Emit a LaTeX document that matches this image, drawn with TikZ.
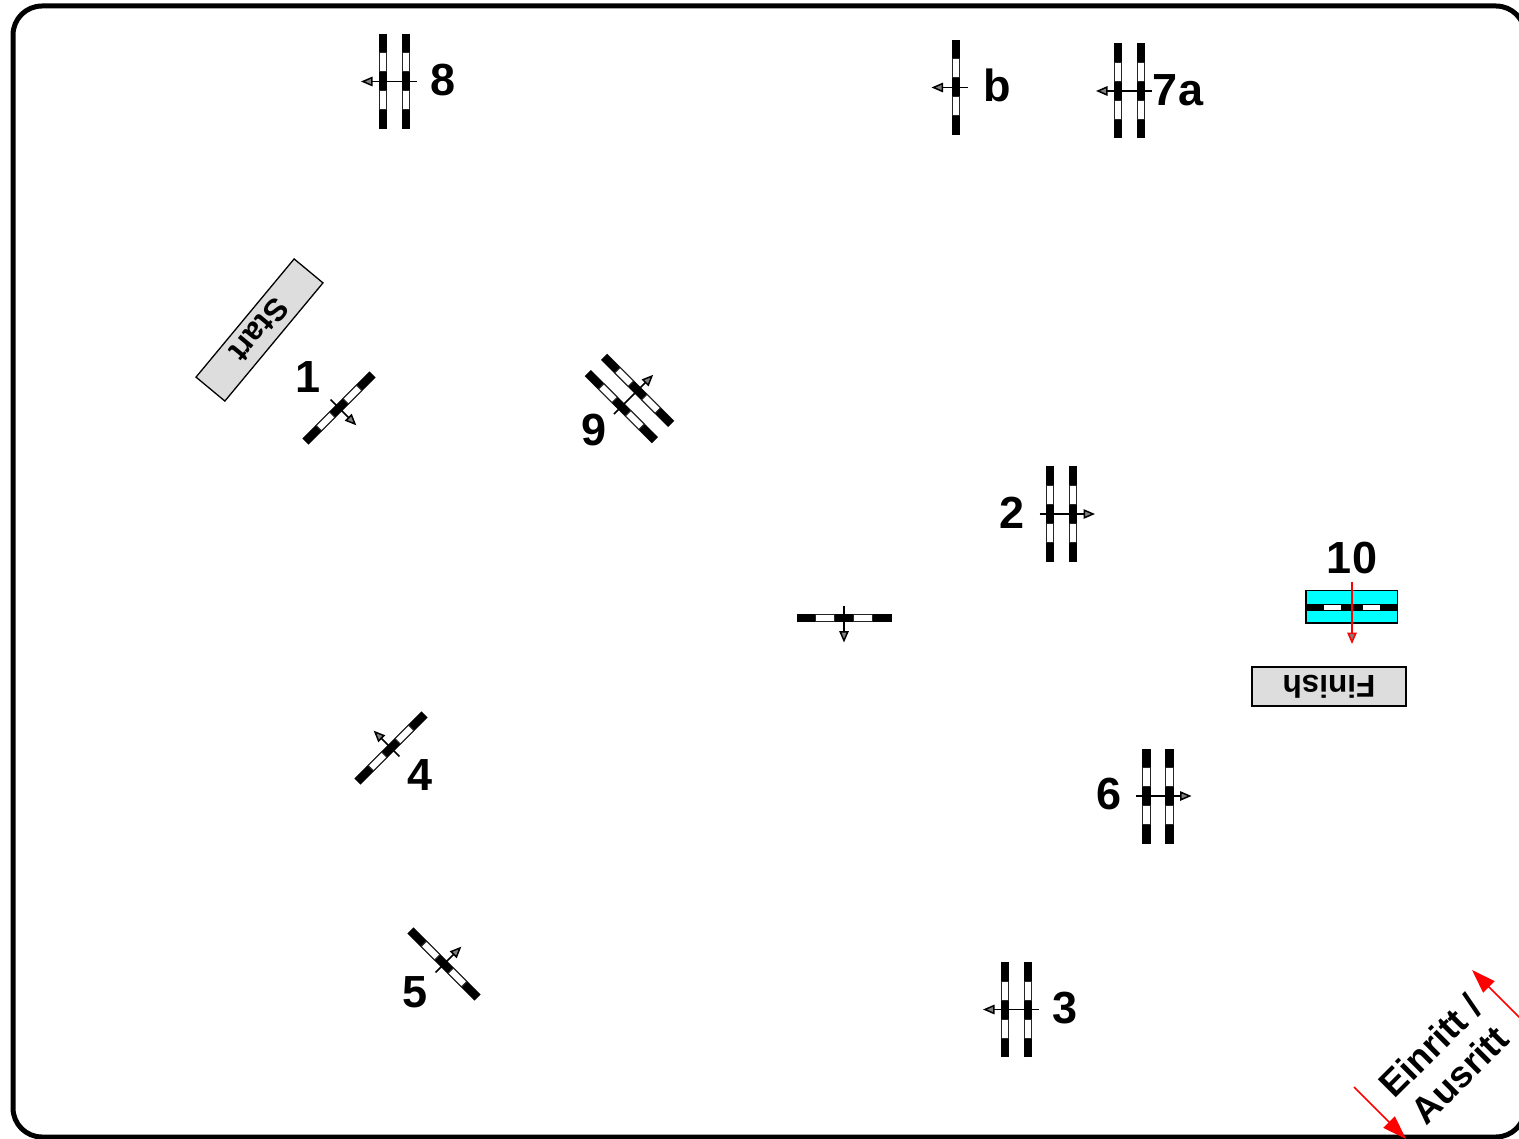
\documentclass[tikz,border=0pt]{standalone}
\usepackage{fontspec}
\setmainfont{Liberation Sans}
\usetikzlibrary{arrows.meta}
\definecolor{boxgray}{HTML}{DDDDDD}
\definecolor{tipgray}{HTML}{808080}
\definecolor{gatecyan}{HTML}{00FFFF}
\tikzset{
  x=1pt,y=-1pt,
  frame/.style={draw=black,line width=5pt,rounded corners=29pt},
  barblack/.style={fill=black},
  barwhite/.style={fill=white,draw=black!85,line width=1pt},
  gatearrow/.style={draw=black,line width=1.5pt,-{Triangle[length=11.5pt,width=9.5pt,fill=tipgray]}},
  redarrow/.style={draw=red,line width=1.5pt,-{Triangle[length=11.5pt,width=9.5pt,fill=tipgray]}},
  bigred/.style={draw=red,line width=1.6pt,-{Triangle[length=24pt,width=16pt,fill=red]}},
  numlabel/.style={font=\fontsize{45}{45}\selectfont\bfseries,inner sep=0pt},
  signbox/.style={draw=black,line width=1.3pt,fill=boxgray,inner sep=0pt,font=\fontsize{31.5}{31.5}\selectfont\bfseries},
  entrylabel/.style={font=\fontsize{37}{41}\selectfont\bfseries,align=center,inner sep=0pt,rotate=45},
}
\newcommand{\gatebar}[1]{%
  \fill[barblack] (#1-4.3,-47.5) rectangle (#1+4.3,47.5);
  \draw[barwhite] (#1-3.8,-28.5) rectangle (#1+3.8,-9.5);
  \draw[barwhite] (#1-3.8,9.5) rectangle (#1+3.8,28.5);
}
\newcommand{\singlegate}[3]{%
  \begin{scope}[shift={(#1,#2)},rotate=#3]
    \gatebar{0}
    \draw[gatearrow] (12,0) -- (-24.5,0);
  \end{scope}
}
\newcommand{\doublegate}[3]{%
  \begin{scope}[shift={(#1,#2)},rotate=#3]
    \gatebar{-11.5}
    \gatebar{11.5}
    \draw[gatearrow] (22,0) -- (-33.5,0);
  \end{scope}
}
\begin{document}
\begin{tikzpicture}
\useasboundingbox (0,0) rectangle (1519,1139);
\begin{scope}
  \clip (0,0) rectangle (1519,1139);
  \draw[frame] (13,6) rectangle (1525,1137);
\end{scope}

% gates
\doublegate{394.5}{81.5}{0}
\singlegate{956}{87.5}{0}
\doublegate{1129.5}{91}{0}
\doublegate{1061.5}{514}{180}
\doublegate{1158}{796}{180}
\doublegate{1016.5}{1009.5}{0}
\singlegate{844}{618}{90}
\singlegate{339}{408}{135}
\singlegate{391}{748}{-45}
\singlegate{444}{964}{-135}
\doublegate{629.5}{398.5}{-135}

% gate 10
\draw[draw=black,line width=1.2pt,fill=gatecyan] (1306,590.5) rectangle (1397.5,623);
\fill[black] (1306,604) rectangle (1397.5,611);
\fill[white] (1324,605) rectangle (1341,610);
\fill[white] (1363,605) rectangle (1380,610);
\draw[redarrow] (1352,582) -- (1352,644);

% signs
\node[signbox,minimum width=154pt,minimum height=39pt,rotate=180] (finish) at (1329,686.5) {Finish};
\node[signbox,minimum width=153.6pt,minimum height=37.5pt,rotate=230.3] (start) at (259.5,330) {Start};

% labels
\node[numlabel] (l8) at (443,80) {8};
\node[numlabel] (lb) at (997,85) {b};
\node[numlabel] (l7a) at (1178,90) {7a};
\node[numlabel] (l1) at (308.5,377) {1};
\node[numlabel] (l9) at (594,430) {9};
\node[numlabel] (l2) at (1012,513) {2};
\node[numlabel] (l10) at (1352,558) {10};
\node[numlabel] (l6) at (1109,794) {6};
\node[numlabel] (l4) at (420.5,775) {4};
\node[numlabel] (l5) at (415,992) {5};
\node[numlabel] (l3) at (1065,1008) {3};

% entry
\node[entrylabel] (entry) at (1445,1060) {Einritt /\\Ausritt};
\begin{scope}
  \clip (0,0) rectangle (1519,1139);
  \coordinate (inA) at (1354,1087);
  \coordinate (inB) at (1406,1139);
  \coordinate (outA) at (1525,1023);
  \coordinate (outB) at (1472,970);
  \draw[bigred] (inA) -- (inB);
  \draw[bigred] (outA) -- (outB);
\end{scope}
\end{tikzpicture}
\end{document}
